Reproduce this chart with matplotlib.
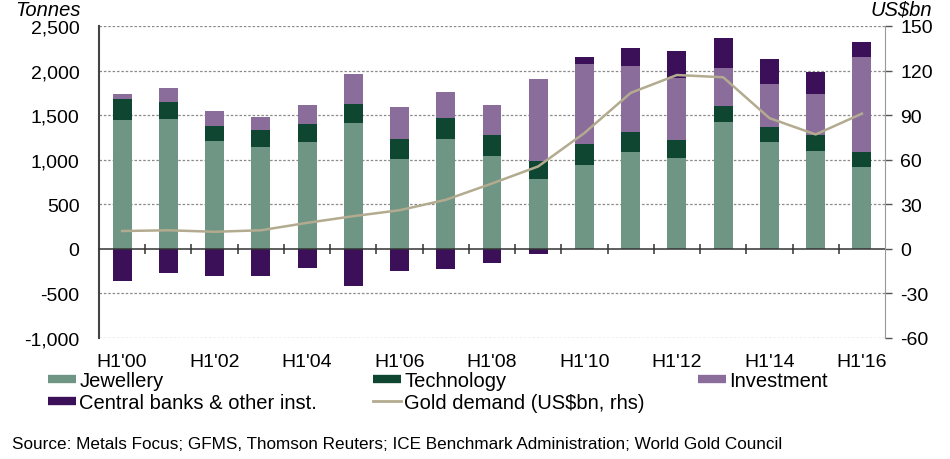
import matplotlib.pyplot as plt
from matplotlib.lines import Line2D
from matplotlib.ticker import FuncFormatter

plt.rcParams['font.family'] = ['Liberation Sans', 'DejaVu Sans']
plt.rcParams['axes.unicode_minus'] = False

# half-year periods H1'00 .. H1'16
periods = ["H1'%02d" % y for y in range(0, 17)]

# tonnes
jewellery = [1450, 1461, 1210, 1139, 1199, 1413, 1012, 1236, 1037, 787,
             936, 1090, 1023, 1424, 1199, 1101, 918]
technology = [232, 183, 169, 195, 206, 217, 224, 233, 244, 194,
              236, 217, 194, 180, 172, 173, 164]
investment = [60, 162, 169, 142, 206, 337, 356, 292, 337, 919,
              907, 742, 705, 427, 476, 460, 1068]
central_banks = [-360, -273, -307, -307, -210, -416, -247, -228, -157, -60,
                 76, 199, 296, 333, 281, 248, 169]

# US$bn, right axis
gold_demand = [12, 12.5, 11.5, 12.5, 17.5, 22, 26, 33, 44, 55.5,
               78, 105, 117, 115.5, 88, 77, 91]

c_jew = '#6f9585'
c_tech = '#0e4632'
c_inv = '#8b6d9c'
c_cb = '#3b1058'
c_line = '#b3ab8f'

fig = plt.figure(figsize=(9.5, 4.6), dpi=100)
ax = fig.add_axes([99 / 950, 1 - 339 / 460, 786 / 950, 312 / 460])

x = list(range(len(periods)))
w = 0.41

# stack positives, central banks negative go below zero
bottom_tech = jewellery
bottom_inv = [a + b for a, b in zip(jewellery, technology)]
top_inv = [a + b for a, b in zip(bottom_inv, investment)]
cb_bottom = [t if v > 0 else 0 for t, v in zip(top_inv, central_banks)]

ax.bar(x, jewellery, w, color=c_jew, zorder=2)
ax.bar(x, technology, w, bottom=bottom_tech, color=c_tech, zorder=2)
ax.bar(x, investment, w, bottom=bottom_inv, color=c_inv, zorder=2)
ax.bar(x, central_banks, w, bottom=cb_bottom, color=c_cb, zorder=2)

ax.set_xlim(-0.5, len(periods) - 0.5)
ax.set_ylim(-1000, 2500)
yt = list(range(-1000, 2501, 500))
ax.set_yticks(yt)
ax.yaxis.set_major_formatter(FuncFormatter(lambda v, p: '{:,.0f}'.format(v)))
ax.set_xticks(x[::2])
ax.set_xticklabels(periods[::2])
ax.tick_params(axis='x', length=0, pad=11, labelsize=14)
ax.tick_params(axis='y', length=0, pad=14, labelsize=14)
for s in ['top', 'bottom', 'right']:
    ax.spines[s].set_visible(False)
ax.spines['left'].set_color('#444444')
ax.spines['left'].set_linewidth(1.5)
for v in yt:
    if v != 0:
        ax.axhline(v, linestyle=(0, (2, 1.5)), color='#8a8a8a',
                   linewidth=0.9, zorder=1)

# zero line with ticks between bars
zero = ax.secondary_xaxis(0, transform=ax.transData)
zero.set_xticks([i + 0.5 for i in x[:-1]])
zero.tick_params(axis='x', direction='inout', length=7, width=1.1,
                 color='#333333', labelbottom=False)
zero.spines['bottom'].set_color('#333333')
zero.spines['bottom'].set_linewidth(1.1)
zero.set_zorder(5)

ax2 = ax.twinx()
ax2.plot(x, gold_demand, color=c_line, linewidth=1.8)
ax2.set_ylim(-60, 150)
ax2.set_yticks(range(-60, 151, 30))
ax2.tick_params(axis='y', length=5, width=1, color='#555555', pad=6,
                labelsize=14)
for s in ['top', 'bottom', 'left']:
    ax2.spines[s].set_visible(False)
ax2.spines['right'].set_color('#999999')

fig.text(15 / 950, 1 - 10 / 460, 'Tonnes', fontsize=14.5, style='italic',
         va='center', ha='left')
fig.text(932 / 950, 1 - 10 / 460, 'US$bn', fontsize=14.5, style='italic',
         va='center', ha='right')


def h(c):
    return Line2D([], [], color=c, linewidth=6, solid_capstyle='butt')


leg_kw = dict(loc='upper left', frameon=False, fontsize=14.5,
              handlelength=1.4, handletextpad=0.15, labelspacing=0.15,
              borderpad=0, borderaxespad=0)
ytop = 1 - 372 / 460
fig.legend([h(c_jew), h(c_cb)], ['Jewellery', 'Central banks & other inst.'],
           bbox_to_anchor=(48 / 950, ytop), **leg_kw)
fig.legend([h(c_tech), Line2D([], [], color=c_line, linewidth=2)],
           ['Technology', 'Gold demand (US$bn, rhs)'],
           bbox_to_anchor=(373 / 950, ytop), **leg_kw)
fig.legend([h(c_inv)], ['Investment'],
           bbox_to_anchor=(698 / 950, ytop), **leg_kw)

fig.text(12 / 950, 1 - 445 / 460,
         'Source: Metals Focus; GFMS, Thomson Reuters; ICE Benchmark '
         'Administration; World Gold Council',
         fontsize=12.3, va='center', ha='left')

fig.savefig('out.png', dpi=100)
